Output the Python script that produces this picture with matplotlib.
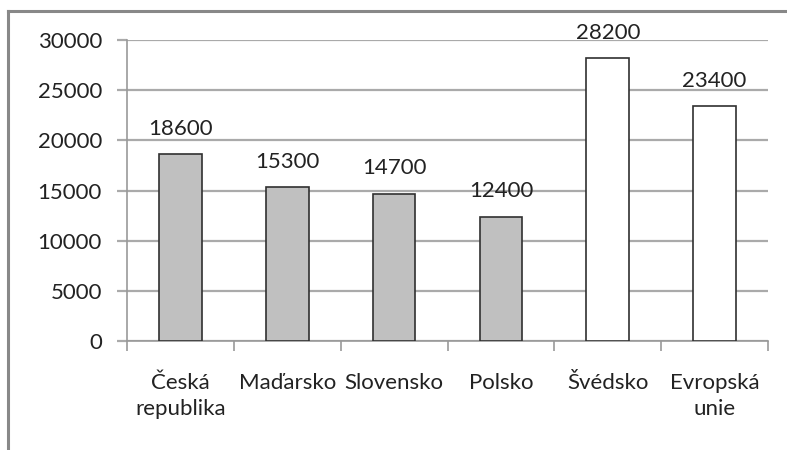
import numpy as np
import matplotlib.pyplot as plt
from matplotlib.lines import Line2D

plt.rcParams['font.family'] = ['Lato', 'DejaVu Sans']

# data
zeme = ["Česká\nrepublika", "Maďarsko", "Slovensko", "Polsko", "Švédsko", "Evropská\nunie"]
hodnoty = [18600, 15300, 14700, 12400, 28200, 23400]
barvy = ["#c0c0c0", "#c0c0c0", "#c0c0c0", "#c0c0c0", "#ffffff", "#ffffff"]
yticks = [0, 5000, 10000, 15000, 20000, 25000, 30000]

fig = plt.figure(figsize=(7.87, 4.5), dpi=100)
ax = fig.add_axes([0.1614, 0.2422, 0.8145, 0.6689])

x = np.arange(len(zeme))
bars = ax.bar(x, hodnoty, width=0.4, color=barvy, edgecolor="#303030", linewidth=1.2, zorder=3)

for b, v in zip(bars, hodnoty):
    ax.annotate(str(v), (b.get_x() + b.get_width() / 2, v), xytext=(0, 11),
                textcoords="offset points", ha="center", va="bottom", fontsize=16, color="#222222")

ax.set_xlim(-0.5, len(zeme) - 0.5)
ax.set_ylim(0, 30000)
ax.set_yticks(yticks)
ax.set_yticklabels([str(t) for t in yticks], fontsize=16, color="#222222")
ax.yaxis.grid(True, color="#aaaaaa", linewidth=1.6, zorder=0)
ax.set_axisbelow(True)

ax.set_xticks(x)
ax.set_xticklabels(zeme, fontsize=16, color="#222222", linespacing=1.35)
ax.set_xticks(np.arange(-0.5, len(zeme)), minor=True)
ax.tick_params(axis="x", which="major", length=0, pad=23)
ax.tick_params(axis="x", which="minor", length=7, width=1.2, color="#999999", direction="out")
ax.tick_params(axis="y", length=7, width=1.6, color="#aaaaaa", pad=11)

for s in ["top", "right"]:
    ax.spines[s].set_visible(False)
for s in ["left", "bottom"]:
    ax.spines[s].set_color("#999999")
    ax.spines[s].set_linewidth(1.2)

# frame of the picture
fig.add_artist(Line2D([8 / 787, 1], [1 - 11 / 450, 1 - 11 / 450], color="#888888", linewidth=2.2))
fig.add_artist(Line2D([8 / 787, 8 / 787], [0, 1 - 11 / 450], color="#888888", linewidth=2.2))

fig.savefig("out.png", dpi=100)
